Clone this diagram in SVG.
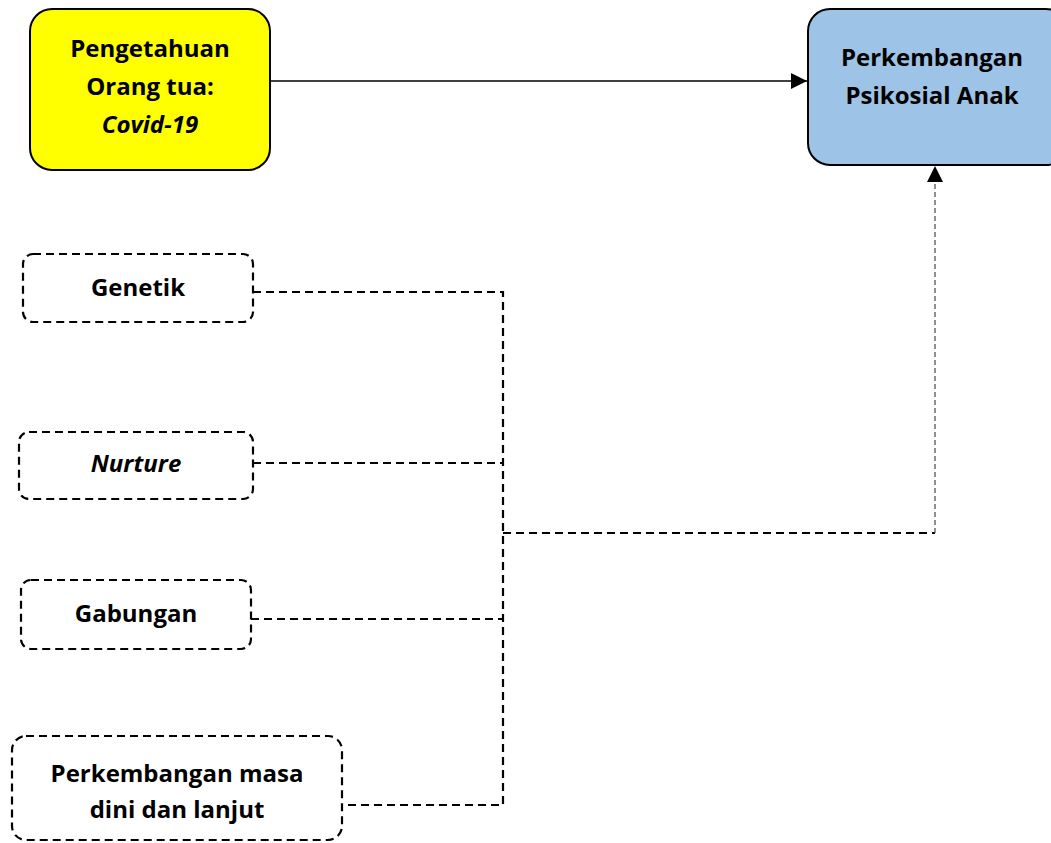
<svg xmlns="http://www.w3.org/2000/svg" width="1051" height="843" viewBox="0 0 1051 843">
<defs>
<style>
text{font-family:"Open Sans",Lato,"Liberation Sans",sans-serif;font-weight:bold;font-size:24px;fill:#000;text-anchor:middle}
.solid{stroke:#000;stroke-width:2}
.dash{fill:#fff;stroke:#000;stroke-width:2.2;stroke-dasharray:8 5}
.conn{fill:none;stroke:#000;stroke-width:2.2;stroke-dasharray:8 5}
.thin{fill:none;stroke:#555;stroke-width:1.3;stroke-dasharray:5 3}
</style>
<marker id="ah" viewBox="0 0 10 10" refX="10" refY="5" markerWidth="16" markerHeight="16" markerUnits="userSpaceOnUse" orient="auto">
<path d="M0,0 L10,5 L0,10 z" fill="#000"/>
</marker>
</defs>
<rect width="1051" height="843" fill="#fff"/>
<g id="connectors">
<line x1="271" y1="81" x2="807" y2="81" stroke="#000" stroke-width="1.3" marker-end="url(#ah)"/>
<path class="conn" d="M253,292 H503 V805 H342"/>
<path class="conn" d="M253,463 H503"/>
<path class="conn" d="M251,619 H503"/>
<path class="conn" d="M503,533 H935"/>
<path class="thin" d="M935,533 V166" marker-end="url(#ah)"/>
</g>
<g id="node-pengetahuan">
<rect x="30" y="9" width="240" height="161" rx="22" fill="#ffff00" class="solid"/>
<text x="150" y="57">Pengetahuan</text>
<text x="150" y="95">Orang tua:</text>
<text x="150" y="133" font-style="italic">Covid-19</text>
</g>
<g id="node-perkembangan">
<rect x="808" y="9" width="260" height="156" rx="22" fill="#9dc3e6" class="solid"/>
<text x="932" y="66">Perkembangan</text>
<text x="932" y="104">Psikosial Anak</text>
</g>
<g id="node-genetik">
<rect x="23" y="254" width="230" height="68" rx="10" class="dash"/>
<text x="138" y="296">Genetik</text>
</g>
<g id="node-nurture">
<rect x="19" y="432" width="234" height="67" rx="10" class="dash"/>
<text x="136" y="472" font-style="italic">Nurture</text>
</g>
<g id="node-gabungan">
<rect x="21" y="580" width="230" height="69" rx="10" class="dash"/>
<text x="136" y="622">Gabungan</text>
</g>
<g id="node-masa">
<rect x="12" y="736" width="330" height="104" rx="14" class="dash"/>
<text x="177" y="782">Perkembangan masa</text>
<text x="177" y="818">dini dan lanjut</text>
</g>
</svg>
